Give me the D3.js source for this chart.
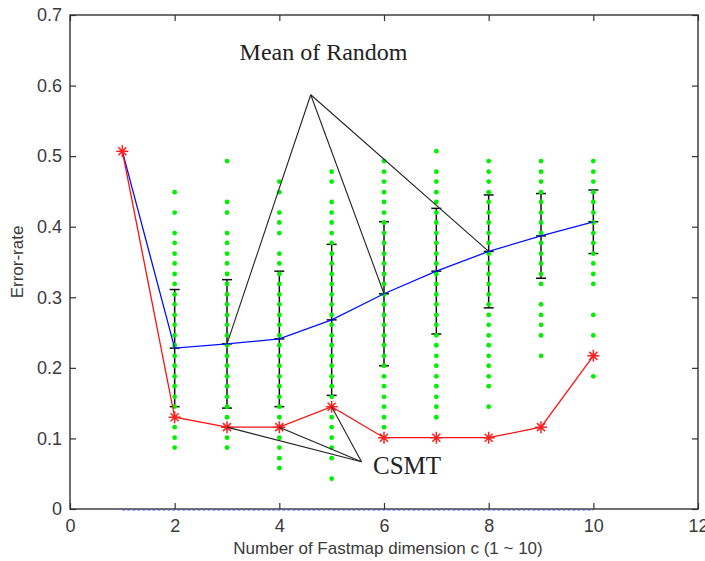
<!DOCTYPE html>
<html>
<head>
<meta charset="utf-8">
<script src="https://cdn.jsdelivr.net/npm/d3@7/dist/d3.min.js"></script>
<style>
  body { margin: 0; background: #fff; }
  svg { display: block; }
</style>
</head>
<body>
<svg id="chart" width="705" height="561"></svg>
<script>
// Number of Fastmap dimensions (c = 1 … 10)
const dims = [1, 2, 3, 4, 5, 6, 7, 8, 9, 10];

// CSMT error rate per dimension
const csmtError = [0.507, 0.130, 0.116, 0.116, 0.145, 0.101, 0.101, 0.101, 0.116, 0.217];

// Mean error rate of the random trials per dimension
const randomMean = [0.507, 0.228, 0.234, 0.241, 0.268, 0.305, 0.337, 0.365, 0.387, 0.407];

// Dimensions that have random trials, and the spread (std) of their error rates
const trialDims = [2, 3, 4, 5, 6, 7, 8, 9, 10];
const trialStd = [0.083, 0.091, 0.096, 0.107, 0.102, 0.089, 0.080, 0.060, 0.045];

// Distinct error rates reached by the random trials, one list per dimension in trialDims
const trialRates2 = [0.449, 0.420, 0.391, 0.377, 0.362, 0.348, 0.333, 0.319, 0.304, 0.290, 0.275, 0.261, 0.246, 0.232, 0.217, 0.203, 0.188, 0.174, 0.159, 0.145, 0.130, 0.116, 0.101, 0.087];
const trialRates3 = [0.493, 0.435, 0.420, 0.391, 0.377, 0.362, 0.348, 0.333, 0.319, 0.304, 0.290, 0.275, 0.261, 0.246, 0.232, 0.217, 0.203, 0.188, 0.174, 0.159, 0.145, 0.130, 0.116, 0.101, 0.087];
const trialRates4 = [0.464, 0.449, 0.420, 0.406, 0.391, 0.362, 0.348, 0.333, 0.319, 0.304, 0.290, 0.275, 0.261, 0.246, 0.232, 0.217, 0.203, 0.188, 0.174, 0.159, 0.145, 0.130, 0.116, 0.101, 0.087, 0.072, 0.058];
const trialRates5 = [0.478, 0.464, 0.435, 0.420, 0.406, 0.391, 0.377, 0.362, 0.348, 0.333, 0.319, 0.304, 0.290, 0.275, 0.261, 0.246, 0.232, 0.217, 0.203, 0.188, 0.174, 0.159, 0.145, 0.130, 0.116, 0.101, 0.087, 0.072, 0.043];
const trialRates6 = [0.493, 0.478, 0.464, 0.449, 0.435, 0.420, 0.406, 0.391, 0.377, 0.362, 0.348, 0.333, 0.319, 0.304, 0.290, 0.275, 0.261, 0.246, 0.232, 0.217, 0.203, 0.188, 0.174, 0.159, 0.145, 0.130, 0.116];
const trialRates7 = [0.507, 0.478, 0.464, 0.449, 0.435, 0.420, 0.406, 0.391, 0.377, 0.362, 0.348, 0.333, 0.319, 0.304, 0.290, 0.275, 0.261, 0.246, 0.232, 0.217, 0.203, 0.188, 0.174, 0.159, 0.145, 0.130];
const trialRates8 = [0.493, 0.478, 0.464, 0.449, 0.435, 0.420, 0.406, 0.391, 0.377, 0.362, 0.348, 0.333, 0.319, 0.304, 0.290, 0.275, 0.261, 0.246, 0.232, 0.217, 0.203, 0.188, 0.174, 0.145];
const trialRates9 = [0.493, 0.478, 0.464, 0.449, 0.435, 0.420, 0.406, 0.391, 0.377, 0.362, 0.348, 0.333, 0.319, 0.290, 0.275, 0.261, 0.246, 0.217];
const trialRates10 = [0.493, 0.478, 0.464, 0.449, 0.435, 0.420, 0.406, 0.391, 0.377, 0.362, 0.348, 0.333, 0.319, 0.275, 0.246, 0.188];
const trialRates = [trialRates2, trialRates3, trialRates4, trialRates5, trialRates6, trialRates7, trialRates8, trialRates9, trialRates10];

// Baseline series plotted at zero
const zeroLine = [0, 0, 0, 0, 0, 0, 0, 0, 0, 0];

// Axis ticks
const xTicks = [0, 2, 4, 6, 8, 10, 12];
const yTicks = [0, 0.1, 0.2, 0.3, 0.4, 0.5, 0.6, 0.7];

// Callouts: text and the dimensions whose points they point at
const meanLabel = "Mean of Random";
const meanTargets = [3, 6, 8];
const csmtLabel = "CSMT";
const csmtTargets = [3, 4, 5];

// ---------------------------------------------------------------
const svg = d3.select("#chart");
const margin = { left: 70, right: 7, top: 15, bottom: 52 };
const W = 705, H = 561;

const x = d3.scaleLinear().domain([0, 12]).range([margin.left, W - margin.right]);
const y = d3.scaleLinear().domain([0, 0.7]).range([H - margin.bottom, margin.top]);

const tickFont = "'Liberation Sans', Arial, sans-serif";
const axisColor = "#333";

// Axes with inward ticks (box style)
const gLeft = svg.append("g").attr("transform", `translate(${x(0)},0)`)
  .call(d3.axisLeft(y).tickValues(yTicks).tickSize(-6).tickPadding(8).tickFormat(d3.format("~g")));
const gBottom = svg.append("g").attr("transform", `translate(0,${y(0)})`)
  .call(d3.axisBottom(x).tickValues(xTicks).tickSize(-6).tickPadding(10).tickFormat(d3.format("d")));
const gRight = svg.append("g").attr("transform", `translate(${x(12)},0)`)
  .call(d3.axisRight(y).tickValues(yTicks).tickSize(-6).tickFormat(""));
const gTop = svg.append("g").attr("transform", `translate(0,${y(0.7)})`)
  .call(d3.axisTop(x).tickValues(xTicks).tickSize(-6).tickFormat(""));

[gLeft, gBottom, gRight, gTop].forEach(g => {
  g.select(".domain").remove();
  g.selectAll(".tick line").attr("stroke", axisColor).attr("stroke-width", 1.2);
  g.selectAll(".tick text").attr("fill", "#3a3a3a").attr("font-family", tickFont).attr("font-size", 18);
});

// Plot box
svg.append("rect")
  .attr("x", x(0)).attr("y", y(0.7))
  .attr("width", x(12) - x(0)).attr("height", y(0) - y(0.7))
  .attr("fill", "none").attr("stroke", axisColor).attr("stroke-width", 1.4);

// Axis titles
svg.append("text")
  .attr("x", (x(0) + x(12)) / 2 + 4).attr("y", 554)
  .attr("text-anchor", "middle")
  .attr("font-family", tickFont).attr("font-size", 17).attr("fill", "#3a3a3a")
  .text("Number of Fastmap dimension c (1 ~ 10)");

svg.append("text")
  .attr("transform", `translate(23,${(y(0) + y(0.7)) / 2}) rotate(-90)`)
  .attr("text-anchor", "middle")
  .attr("font-family", tickFont).attr("font-size", 17).attr("fill", "#3a3a3a")
  .text("Error-rate");

// Error bars (mean ± std) for the random trials
const cap = 5;
const bars = svg.append("g").attr("stroke", "#111").attr("stroke-width", 1.5).attr("fill", "none");
trialDims.forEach((d, i) => {
  const m = randomMean[dims.indexOf(d)];
  const s = trialStd[i];
  const cx = x(d);
  bars.append("line").attr("x1", cx).attr("x2", cx).attr("y1", y(m - s)).attr("y2", y(m + s));
  [m - s, m + s, m].forEach(v => {
    bars.append("line").attr("x1", cx - cap).attr("x2", cx + cap).attr("y1", y(v)).attr("y2", y(v));
  });
});

// Random trial error rates (green dots)
const dots = svg.append("g").attr("fill", "#00f000");
trialDims.forEach((d, i) => {
  trialRates[i].forEach(v => {
    dots.append("circle").attr("cx", x(d)).attr("cy", y(v)).attr("r", 2.4);
  });
});

// Zero baseline (dotted blue)
svg.append("path")
  .datum(dims.map((d, i) => [d, zeroLine[i]]))
  .attr("d", d3.line().x(p => x(p[0])).y(p => y(p[1]) + 1))
  .attr("fill", "none").attr("stroke", "#4455ff").attr("stroke-width", 1.2)
  .attr("stroke-dasharray", "3,2");

// Mean of random (blue)
svg.append("path")
  .datum(dims.map((d, i) => [d, randomMean[i]]))
  .attr("d", d3.line().x(p => x(p[0])).y(p => y(p[1])))
  .attr("fill", "none").attr("stroke", "#0010ff").attr("stroke-width", 1.3);

// CSMT (red, asterisk markers)
svg.append("path")
  .datum(dims.map((d, i) => [d, csmtError[i]]))
  .attr("d", d3.line().x(p => x(p[0])).y(p => y(p[1])))
  .attr("fill", "none").attr("stroke", "#ff1010").attr("stroke-width", 1.3);

svg.append("g").selectAll("path")
  .data(dims.map((d, i) => [d, csmtError[i]]))
  .join("path")
  .attr("transform", p => `translate(${x(p[0])},${y(p[1])})`)
  .attr("d", "M-6,0H6M0,-6V6M-4,-4L4,4M-4,4L4,-4")
  .attr("fill", "none").attr("stroke", "#ff2020").attr("stroke-width", 1.5);

// Callout: Mean of Random
const serif = "'Liberation Serif', 'Times New Roman', serif";
const meanApex = [4.6, 0.587];
const callouts = svg.append("g").attr("stroke", "#222").attr("stroke-width", 1.1).attr("fill", "none");
meanTargets.forEach(d => {
  callouts.append("line")
    .attr("x1", x(meanApex[0])).attr("y1", y(meanApex[1]))
    .attr("x2", x(d)).attr("y2", y(randomMean[dims.indexOf(d)]));
});
svg.append("text")
  .attr("x", x(3.24)).attr("y", 60)
  .attr("font-family", serif).attr("font-size", 24).attr("fill", "#222")
  .text(meanLabel);

// Callout: CSMT
const csmtApex = [5.57, 0.067];
csmtTargets.forEach(d => {
  callouts.append("line")
    .attr("x1", x(csmtApex[0])).attr("y1", y(csmtApex[1]))
    .attr("x2", x(d)).attr("y2", y(csmtError[dims.indexOf(d)]));
});
svg.append("text")
  .attr("x", x(5.79)).attr("y", 474)
  .attr("font-family", serif).attr("font-size", 25).attr("fill", "#222")
  .text(csmtLabel);
</script>
</body>
</html>
